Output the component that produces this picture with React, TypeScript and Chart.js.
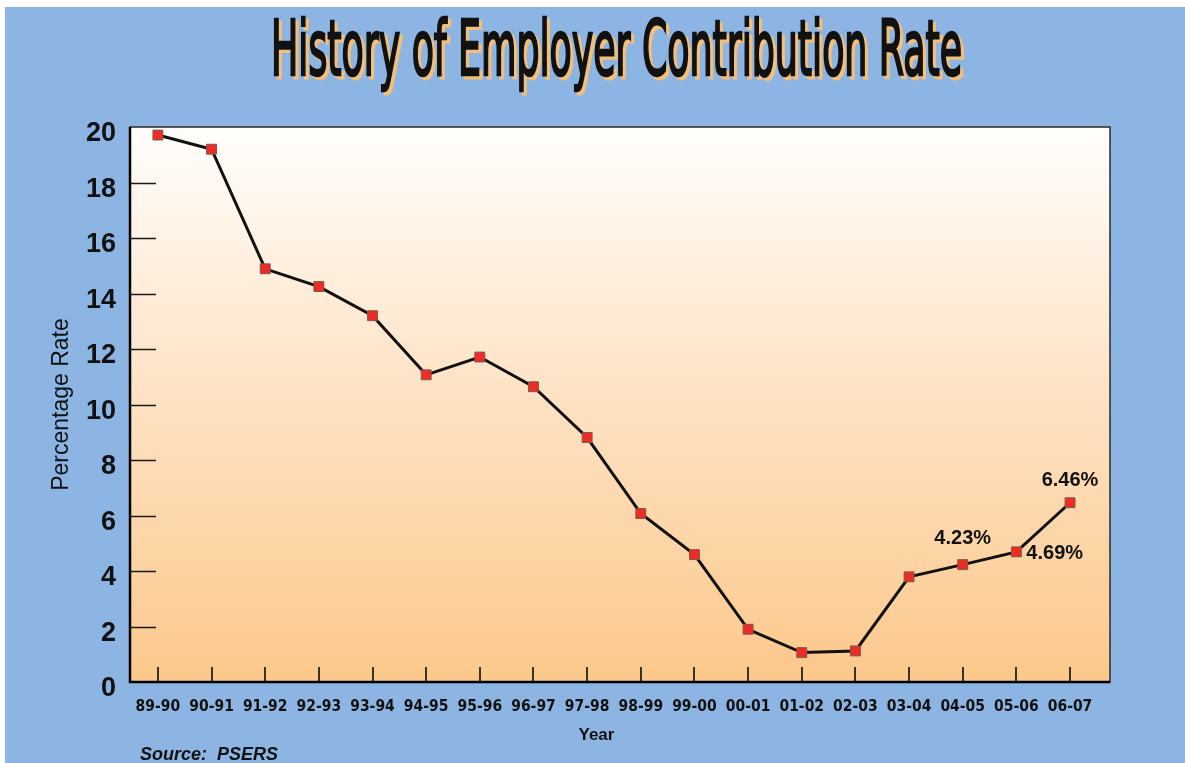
import React, { useEffect, useRef } from 'react';
import { Chart, registerables } from 'chart.js';

Chart.register(...registerables);

const titleText = 'History of Employer Contribution Rate';
const years = ['89-90', '90-91', '91-92', '92-93', '93-94', '94-95', '95-96', '96-97', '97-98', '98-99', '99-00', '00-01', '01-02', '02-03', '03-04', '04-05', '05-06', '06-07'];
const rates = [19.71, 19.2, 14.89, 14.25, 13.2, 11.07, 11.71, 10.64, 8.81, 6.07, 4.59, 1.9, 1.06, 1.12, 3.79, 4.23, 4.69, 6.46];
const yTickValues = [2, 4, 6, 8, 10, 12, 14, 16, 18];
const calloutIndex = [15, 16, 17];
const calloutText = ['4.23%', '4.69%', '6.46%'];
const calloutSide = ['above', 'right', 'above'];
const yAxisTitle = 'Percentage Rate';
const xAxisTitle = 'Year';
const sourceText = 'Source:  PSERS';

const decorPlugin = {
  id: 'decor',
  beforeDraw(chart: any) {
    const { ctx, width, height, chartArea } = chart;
    ctx.save();
    ctx.fillStyle = '#ffffff';
    ctx.fillRect(0, 0, width, height);
    ctx.fillStyle = '#8db5e3';
    ctx.fillRect(5, 7, width - 5, height - 7);
    // plot background
    const g = ctx.createLinearGradient(0, chartArea.top, 0, chartArea.bottom);
    g.addColorStop(0, '#fffefc');
    g.addColorStop(0.45, '#fee4c8');
    g.addColorStop(1, '#fcc88b');
    ctx.fillStyle = g;
    ctx.fillRect(chartArea.left, chartArea.top, chartArea.right - chartArea.left, chartArea.bottom - chartArea.top);
    // title
    ctx.font = '76px "DejaVu Sans Condensed", "Liberation Sans", sans-serif';
    ctx.textAlign = 'left';
    ctx.textBaseline = 'alphabetic';
    const w = ctx.measureText(titleText).width;
    const sx = 691 / w;
    ctx.translate(271, 75);
    ctx.scale(sx, 1);
    ctx.fillStyle = '#f2bf7c';
    ctx.lineWidth = 3;
    ctx.strokeStyle = '#f2bf7c';
    ctx.strokeText(titleText, 3 / sx, 3);
    ctx.fillText(titleText, 3 / sx, 3);
    ctx.fillStyle = '#111111';
    ctx.strokeStyle = '#111111';
    ctx.lineWidth = 2.5;
    ctx.strokeText(titleText, 0, 0);
    ctx.fillText(titleText, 0, 0);
    ctx.restore();
  },
  beforeDatasetsDraw(chart: any) {
    const { ctx, chartArea, scales } = chart;
    const { left, right, top, bottom } = chartArea;
    ctx.save();
    ctx.strokeStyle = '#1a1a1a';
    ctx.lineWidth = 1.5;
    yTickValues.forEach((v) => {
      const y = Math.round(scales.y.getPixelForValue(v)) + 0.5;
      ctx.beginPath();
      ctx.moveTo(left, y);
      ctx.lineTo(left + 26, y);
      ctx.stroke();
    });
    ctx.strokeStyle = '#3a3328';
    ctx.lineWidth = 2;
    years.forEach((_, i) => {
      const x = Math.round(scales.x.getPixelForValue(i));
      ctx.beginPath();
      ctx.moveTo(x, bottom);
      ctx.lineTo(x, bottom - 15);
      ctx.stroke();
    });
    // frame
    ctx.strokeStyle = '#2a2a2a';
    ctx.lineWidth = 1.5;
    ctx.strokeRect(left, top, right - left, bottom - top);
    ctx.strokeStyle = '#000000';
    ctx.lineWidth = 2.5;
    ctx.beginPath();
    ctx.moveTo(left, top);
    ctx.lineTo(left, bottom);
    ctx.lineTo(right, bottom);
    ctx.stroke();
    ctx.restore();
  },
  afterDatasetsDraw(chart: any) {
    const { ctx, chartArea, scales } = chart;
    ctx.save();
    ctx.fillStyle = '#111111';
    ctx.font = 'bold 20px "Liberation Sans", Arial, sans-serif';
    calloutIndex.forEach((idx, k) => {
      const x = scales.x.getPixelForValue(idx);
      const y = scales.y.getPixelForValue(rates[idx]);
      if (calloutSide[k] === 'above') {
        ctx.textAlign = 'center';
        ctx.textBaseline = 'middle';
        ctx.fillText(calloutText[k], x, y - (idx === 17 ? 22 : 26));
      } else {
        ctx.textAlign = 'left';
        ctx.textBaseline = 'middle';
        ctx.fillText(calloutText[k], x + 10, y + 2);
      }
    });
    // x axis title
    ctx.font = 'bold 17px "Liberation Sans", Arial, sans-serif';
    ctx.textAlign = 'center';
    ctx.textBaseline = 'middle';
    ctx.fillText(xAxisTitle, chartArea.left + (chartArea.right - chartArea.left) * 0.476, 735);
    // source
    ctx.font = 'italic bold 18px "Liberation Sans", Arial, sans-serif';
    ctx.textAlign = 'left';
    ctx.fillText(sourceText, 140, 755);
    ctx.restore();
  },
};

export default function App() {
  const ref = useRef<HTMLCanvasElement | null>(null);
  useEffect(() => {
    if (!ref.current) return;
    const chart = new Chart(ref.current, {
      type: 'line',
      data: {
        datasets: [
          {
            data: rates.map((v, i) => ({ x: i, y: v })),
            borderColor: '#111111',
            borderWidth: 3,
            pointStyle: 'rect',
            pointRadius: 7,
            pointBackgroundColor: '#ee2b25',
            pointBorderColor: '#7d5a4a',
            pointBorderWidth: 1,
            tension: 0,
          },
        ],
      },
      options: {
        responsive: false,
        animation: false,
        layout: { padding: { left: 0, right: 75, top: 127, bottom: 0 } },
        plugins: { legend: { display: false }, tooltip: { enabled: false }, title: { display: false } },
        scales: {
          x: {
            type: 'linear',
            min: -0.52,
            max: 17.745,
            afterBuildTicks: (axis: any) => {
              axis.ticks = years.map((_, i) => ({ value: i }));
            },
            afterFit: (s: any) => {
              s.height = 81;
            },
            ticks: {
              callback: (v: any) => years[v as number] ?? '',
              autoSkip: false,
              maxRotation: 0,
              color: '#111111',
              padding: 16,
              font: { size: 15.5, weight: 'bold', family: '"DejaVu Sans Condensed", "Liberation Sans", sans-serif' },
            },
            grid: { display: false, drawTicks: false },
            border: { display: false },
          },
          y: {
            min: 0,
            max: 20,
            afterFit: (s: any) => {
              s.width = 130;
            },
            ticks: {
              stepSize: 2,
              color: '#111111',
              padding: 14,
              labelOffset: 7,
              font: { size: 27, weight: 'bold', family: '"Liberation Sans", Arial, sans-serif' },
            },
            grid: { display: false, drawTicks: false },
            border: { display: false },
            title: {
              display: true,
              text: yAxisTitle,
              color: '#111111',
              padding: { top: 48, bottom: 0 },
              font: { size: 23, family: '"Liberation Sans", Arial, sans-serif' },
            },
          },
        },
      },
      plugins: [decorPlugin],
    } as any);
    return () => chart.destroy();
  }, []);
  return (
    <div style={{ position: 'absolute', left: 0, top: 0, width: 1185, height: 763 }}>
      <canvas ref={ref} width={1185} height={763} />
    </div>
  );
}
